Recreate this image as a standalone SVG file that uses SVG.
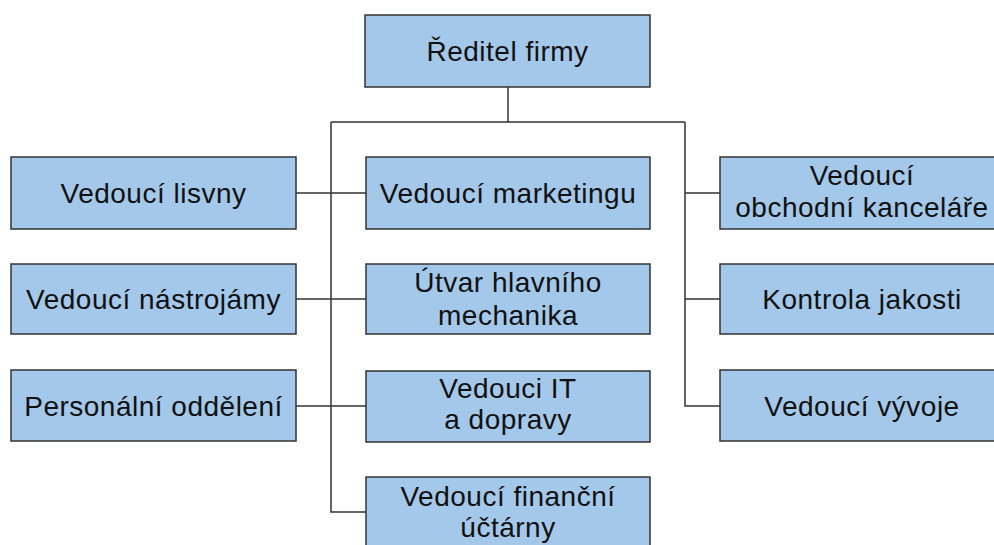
<svg xmlns="http://www.w3.org/2000/svg" width="994" height="545" viewBox="0 0 994 545">
  <style>
    .box { fill: #a4c8ea; stroke: #333333; stroke-width: 1.5; }
    .lbl { font-family: "Liberation Sans", Arial, sans-serif; font-size: 28px; fill: #111111; text-anchor: middle; letter-spacing: 0.5px; }
    .wire { fill: none; stroke: #333333; stroke-width: 1.5; }
  </style>
  <rect width="994" height="545" fill="#ffffff"/>

  <g id="connectors">
    <path class="wire" d="M508 87 V122 M331 122 H685"/>
    <path class="wire" d="M331 122 V512 H366"/>
    <path class="wire" d="M296 193 H366 M296 299 H366 M296 406 H366"/>
    <path class="wire" d="M685 122 V406 H720 M685 193 H720 M685 299 H720"/>
  </g>

  <g id="reditel">
    <rect class="box" x="365" y="15" width="285" height="72"/>
    <text class="lbl" x="507.5" y="61">Ředitel firmy</text>
  </g>

  <g id="lisovna">
    <rect class="box" x="11" y="157" width="285" height="72"/>
    <text class="lbl" x="153.5" y="203">Vedoucí lisvny</text>
  </g>
  <g id="nastrojarna">
    <rect class="box" x="11" y="264" width="285" height="70"/>
    <text class="lbl" x="153.5" y="309">Vedoucí nástrojámy</text>
  </g>
  <g id="personalni">
    <rect class="box" x="11" y="370" width="285" height="71"/>
    <text class="lbl" x="153.5" y="416">Personální oddělení</text>
  </g>

  <g id="marketing">
    <rect class="box" x="366" y="157" width="284" height="72"/>
    <text class="lbl" x="508" y="203">Vedoucí marketingu</text>
  </g>
  <g id="mechanik">
    <rect class="box" x="366" y="264" width="284" height="70"/>
    <text class="lbl" x="508" y="292">Útvar hlavního</text>
    <text class="lbl" x="508" y="325">mechanika</text>
  </g>
  <g id="it-doprava">
    <rect class="box" x="366" y="371" width="284" height="71"/>
    <text class="lbl" x="508" y="398">Vedouci IT</text>
    <text class="lbl" x="508" y="429">a dopravy</text>
  </g>
  <g id="uctarna">
    <rect class="box" x="366" y="477" width="284" height="80"/>
    <text class="lbl" x="508" y="506">Vedoucí finanční</text>
    <text class="lbl" x="508" y="537">účtárny</text>
  </g>

  <g id="obchodni">
    <rect class="box" x="720" y="157" width="285" height="72"/>
    <text class="lbl" x="862" y="185">Vedoucí</text>
    <text class="lbl" x="862" y="217">obchodní kanceláře</text>
  </g>
  <g id="jakost">
    <rect class="box" x="720" y="264" width="285" height="70"/>
    <text class="lbl" x="862" y="309">Kontrola jakosti</text>
  </g>
  <g id="vyvoj">
    <rect class="box" x="720" y="370" width="285" height="71"/>
    <text class="lbl" x="862" y="416">Vedoucí vývoje</text>
  </g>
</svg>
